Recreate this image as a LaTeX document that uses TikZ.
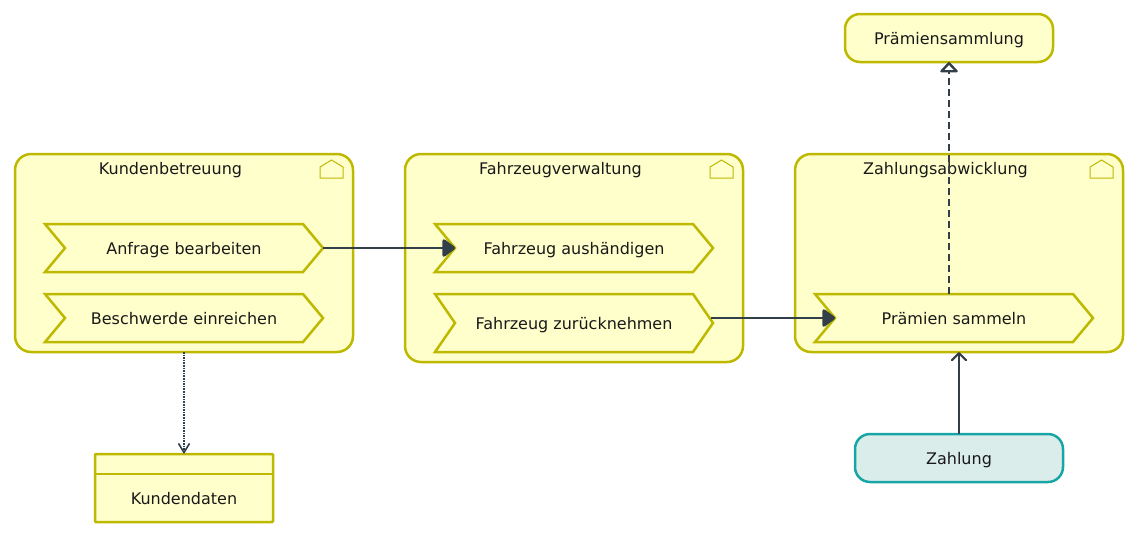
\documentclass[tikz,border=0pt]{standalone}
\usepackage{fontspec}
\setmainfont{DejaVu Sans}
\usetikzlibrary{calc,arrows.meta}
\definecolor{archiyellow}{HTML}{FFFFCC}
\definecolor{archiolive}{HTML}{BDB800}
\definecolor{architeal}{HTML}{18A5A5}
\definecolor{archimint}{HTML}{DAEDEB}
\definecolor{archidark}{HTML}{323F48}
\tikzset{
	every node/.style={font=\fontsize{16}{19}\selectfont,inner sep=0pt,outer sep=0pt,text=black!90,text height=14pt,text depth=2pt},
	container/.style={draw=archiolive,fill=archiyellow,line width=2.5pt,rounded corners=16pt},
	service/.style={draw=archiolive,fill=archiyellow,line width=2.5pt,rounded corners=15pt,minimum width=208pt,minimum height=48pt},
	interact/.style={service,draw=architeal,fill=archimint},
	databox/.style={draw=archiolive,fill=archiyellow,line width=2.5pt,rounded corners=1pt,minimum width=178pt,minimum height=68pt},
	chevron/.style={minimum width=278pt,minimum height=#1,
		append after command={\pgfextra{\let\chevnode\tikzlastnode
			\draw[archiolive,line width=2.5pt,line join=miter]
			(\chevnode.north west) -- ([xshift=-20pt]\chevnode.north east) -- (\chevnode.east)
			-- ([xshift=-20pt]\chevnode.south east) -- (\chevnode.south west)
			-- ([xshift=20pt]\chevnode.west) -- cycle;
		}}},
	flow/.style={draw=archidark,line width=2.2pt,-{Triangle[round,length=14pt,width=20pt,line width=5pt]}},
	serving/.style={draw=archidark,line width=2.2pt,-{Straight Barb[length=7pt,width=14pt,round]}},
	access/.style={draw=archidark,line width=1.5pt,dash pattern=on 1.6pt off 1pt,-{Straight Barb[length=9pt,width=11pt,line width=1.6pt]}},
	realize/.style={draw=archidark,line width=2.2pt,dash pattern=on 7pt off 4pt,-{Triangle[open,round,length=11pt,width=20pt,line width=2.4pt,fill=white]}},
}
\begin{document}
\begin{tikzpicture}[x=1pt,y=-1pt]
	\useasboundingbox (0,0) rectangle (1137,536);
	% Gruppen
	\node[container,minimum width=338pt,minimum height=198pt] (kunden) at (184,253) {};
	\node[container,minimum width=338pt,minimum height=208pt] (fahrzeug) at (574,258) {};
	\node[container,minimum width=328pt,minimum height=198pt] (zahlungen) at (959,253) {};
	\node (kundentitel) at (170.5,168) {Kundenbetreuung};
	\node (fahrzeugtitel) at (560.5,168) {Fahrzeugverwaltung};
	\node (zahlungstitel) at (945.5,168) {Zahlungsabwicklung};
	\foreach \g in {kunden,fahrzeug,zahlungen}
		\draw[archiolive,line width=1pt] ([shift={(-33,24)}]\g.north east) -- ++(0,-11) -- ++(11.5,-7) -- ++(11.5,7) -- ++(0,11) -- cycle;
	% Prozesse
	\node[chevron=48pt] (anfrage) at (184,248) {Anfrage bearbeiten};
	\node[chevron=48pt] (beschwerde) at (184,318) {Beschwerde einreichen};
	\node[chevron=48pt] (aushaendigen) at (574,248) {Fahrzeug aushändigen};
	\node[chevron=58pt] (zuruecknehmen) at (574,323) {Fahrzeug zurücknehmen};
	\node[chevron=48pt] (praemien) at (954,318) {Prämien sammeln};
	% Einzelne Elemente
	\node[service] (sammlung) at (949,38) {Prämiensammlung};
	\node[interact] (zahlung) at (959,458) {Zahlung};
	\node[databox] (daten) at (184,488) {};
	\node (datentext) at (184,498) {Kundendaten};
	\draw[archiolive,line width=2.5pt] ([yshift=-20pt]daten.north west) -- ([yshift=-20pt]daten.north east);
	% Beziehungen
	\coordinate (aushaendigenein) at ([xshift=20pt]aushaendigen.west);
	\coordinate (praemienein) at ([xshift=20pt]praemien.west);
	\draw[flow] (anfrage.east) -- (aushaendigenein);
	\draw[flow] ([xshift=-2pt]zuruecknehmen.east |- praemienein) -- (praemienein);
	\draw[access] (kunden.south) -- (daten.north);
	\draw[serving] (zahlung.north) -- (zahlung.north |- zahlungen.south);
	\draw[realize] (sammlung.south |- praemien.north) -- (sammlung.south);
\end{tikzpicture}
\end{document}
